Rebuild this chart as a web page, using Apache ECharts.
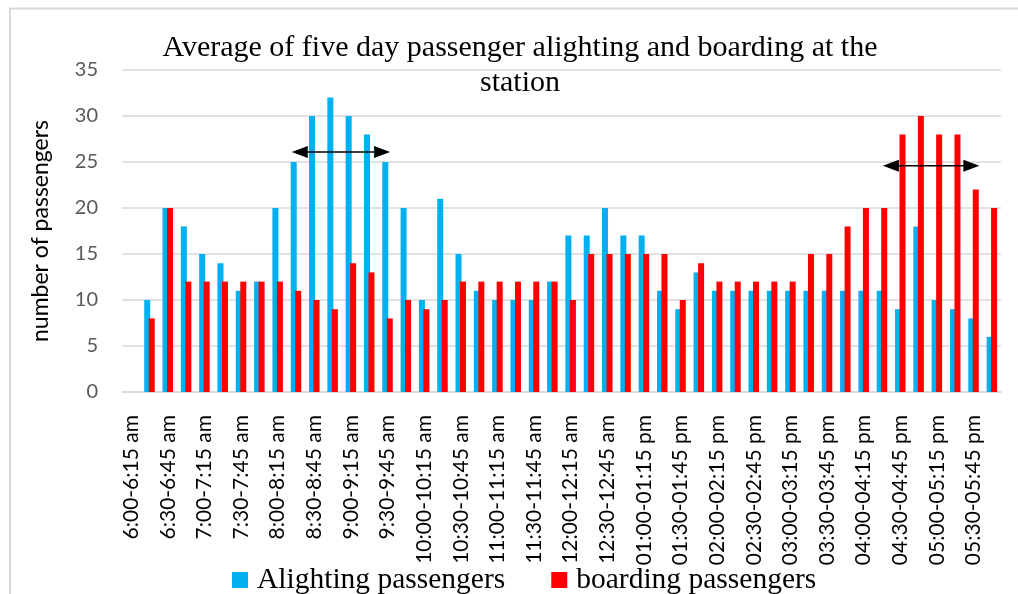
<!DOCTYPE html>
<html>
<head>
<meta charset="utf-8">
<script src="https://cdn.jsdelivr.net/npm/echarts@6/dist/echarts.min.js"></script>
<style>
  html, body { margin: 0; padding: 0; background: #fff; }
  #chart { width: 1018px; height: 594px; }
</style>
</head>
<body>
<div id="chart"></div>
<script>
// 15-minute time slots, 6:00 am to 6:00 pm
const slots = [
  "6:00-6:15 am","6:15-6:30 am","6:30-6:45 am","6:45-7:00 am",
  "7:00-7:15 am","7:15-7:30 am","7:30-7:45 am","7:45-8:00 am",
  "8:00-8:15 am","8:15-8:30 am","8:30-8:45 am","8:45-9:00 am",
  "9:00-9:15 am","9:15-9:30 am","9:30-9:45 am","9:45-10:00 am",
  "10:00-10:15 am","10:15-10:30 am","10:30-10:45 am","10:45-11:00 am",
  "11:00-11:15 am","11:15-11:30 am","11:30-11:45 am","11:45-12:00 am",
  "12:00-12:15 am","12:15-12:30 am","12:30-12:45 am","12:45-01:00 pm",
  "01:00-01:15 pm","01:15-01:30 pm","01:30-01:45 pm","01:45-02:00 pm",
  "02:00-02:15 pm","02:15-02:30 pm","02:30-02:45 pm","02:45-03:00 pm",
  "03:00-03:15 pm","03:15-03:30 pm","03:30-03:45 pm","03:45-04:00 pm",
  "04:00-04:15 pm","04:15-04:30 pm","04:30-04:45 pm","04:45-05:00 pm",
  "05:00-05:15 pm","05:15-05:30 pm","05:30-05:45 pm","05:45-06:00 pm"
];

// average passengers per slot (five days)
const alighting = [null,
  10, 20, 18, 15, 14, 11, 12, 20, 25, 30,
  32, 30, 28, 25, 20, 10, 21, 15, 11, 10,
  10, 10, 12, 17, 17, 20, 17, 17, 11, 9,
  13, 11, 11, 11, 11, 11, 11, 11, 11, 11,
  11, 9, 18, 10, 9, 8, 6];
const boarding = [null,
  8, 20, 12, 12, 12, 12, 12, 12, 11, 10,
  9, 14, 13, 8, 10, 9, 10, 12, 12, 12,
  12, 12, 12, 10, 15, 15, 15, 15, 15, 10,
  14, 12, 12, 12, 12, 12, 15, 15, 18, 20,
  20, 28, 30, 28, 28, 22, 20];

// peak-period spans: [from slot position, to slot position, level]
const morningPeak = [8.77, 14.14, 26.1];
const eveningPeak = [41.05, 46.32, 24.6];

const serif = '"Liberation Serif", "Times New Roman", serif';
const sans = 'Lato, "Open Sans", sans-serif';

const chart = echarts.init(document.getElementById('chart'));
chart.setOption({
  animation: false,
  backgroundColor: '#fff',
  title: {
    text: 'Average of five day passenger alighting and boarding at the\nstation',
    left: 520,
    top: 31,
    textAlign: 'center',
    padding: 0,
    textStyle: { fontFamily: serif, fontSize: 30, fontWeight: 'normal', color: '#000', lineHeight: 35 }
  },
  legend: {
    left: 232,
    top: 565,
    padding: 0,
    itemWidth: 16,
    itemHeight: 16,
    itemGap: 46,
    icon: 'rect',
    textStyle: { fontFamily: serif, fontSize: 29.5, color: '#000', padding: [0, 0, 0, 4] },
    data: ['Alighting passengers', 'boarding passengers']
  },
  grid: { left: 122, right: 17, top: 70, bottom: 202, containLabel: false },
  xAxis: {
    type: 'category',
    data: slots,
    axisLine: { show: true, lineStyle: { color: '#d9d9d9', width: 1.5 } },
    axisTick: { show: false },
    axisLabel: {
      interval: 1,
      rotate: 90,
      margin: 23,
      fontFamily: sans,
      fontSize: 21,
      color: '#000'
    }
  },
  yAxis: {
    type: 'value',
    min: 0,
    max: 35,
    interval: 5,
    name: 'number of passengers',
    nameLocation: 'middle',
    nameRotate: 90,
    nameGap: 70,
    nameTextStyle: { fontFamily: sans, fontSize: 23, color: '#000' },
    axisLine: { show: false },
    axisTick: { show: false },
    axisLabel: { margin: 24, fontFamily: sans, fontSize: 20, color: '#595959' },
    splitLine: { lineStyle: { color: '#d9d9d9', width: 1.5 } }
  },
  series: [
    {
      name: 'Alighting passengers',
      type: 'bar',
      data: alighting,
      barWidth: 6,
      barGap: '-25%',
      itemStyle: { color: '#00B0F0' }
    },
    {
      name: 'boarding passengers',
      type: 'bar',
      data: boarding,
      barWidth: 6,
      itemStyle: { color: '#FF0000' }
    }
  ]
});

// double-headed arrows marking the peak periods, placed through the axes
function slotToPixel(pos, value) {
  const a = chart.convertToPixel({ gridIndex: 0 }, [0, value]);
  const b = chart.convertToPixel({ gridIndex: 0 }, [1, value]);
  return [a[0] + (b[0] - a[0]) * pos, a[1]];
}
function doubleArrow(span) {
  const p0 = slotToPixel(span[0], span[2]);
  const p1 = slotToPixel(span[1], span[2]);
  const y = p0[1], head = 16, half = 6;
  return [
    { type: 'line', shape: { x1: p0[0] + head - 2, y1: y, x2: p1[0] - head + 2, y2: y },
      style: { stroke: '#000', lineWidth: 1.5 }, z: 100 },
    { type: 'polygon', shape: { points: [[p0[0], y], [p0[0] + head, y - half], [p0[0] + head, y + half]] },
      style: { fill: '#000' }, z: 100 },
    { type: 'polygon', shape: { points: [[p1[0], y], [p1[0] - head, y - half], [p1[0] - head, y + half]] },
      style: { fill: '#000' }, z: 100 }
  ];
}

chart.setOption({
  graphic: [
    { type: 'rect', shape: { x: 10, y: 8.5, width: 1200, height: 800 },
      style: { fill: null, stroke: '#d9d9d9', lineWidth: 2 }, z: -1, silent: true }
  ].concat(doubleArrow(morningPeak), doubleArrow(eveningPeak))
});
</script>
</body>
</html>
